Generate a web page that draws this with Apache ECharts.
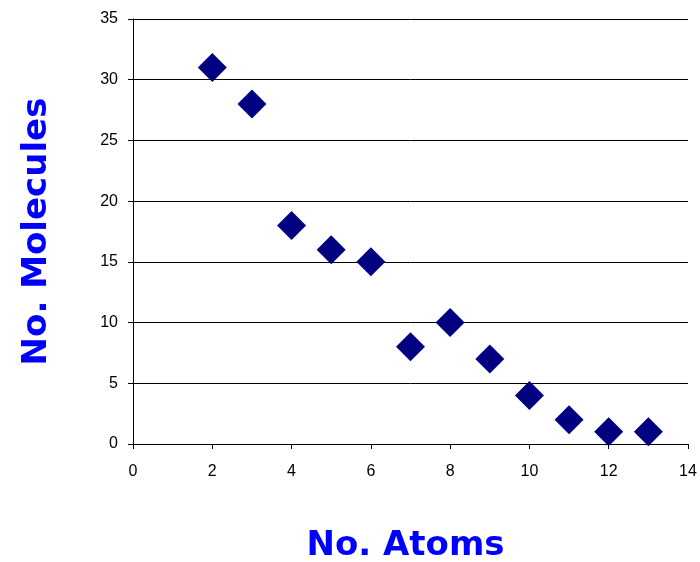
<!DOCTYPE html>
<html>
<head>
<meta charset="utf-8">
<script src="https://cdn.jsdelivr.net/npm/echarts@6/dist/echarts.min.js"></script>
<style>
  html, body { margin: 0; padding: 0; background: #fff; }
  #chart { width: 700px; height: 562px; }
</style>
</head>
<body>
<div id="chart"></div>
<script>
// Number of atoms per molecule vs. how many molecules have that size
const atoms = [2, 3, 4, 5, 6, 7, 8, 9, 10, 11, 12, 13];
const molecules = [31, 28, 18, 16, 15, 8, 10, 7, 4, 2, 1, 1];

const xTitle = 'No. Atoms';
const yTitle = 'No. Molecules';

const points = atoms.map((a, i) => [a, molecules[i]]);

const titleStyle = {
  fontFamily: '"DejaVu Sans", sans-serif',
  fontWeight: 'bold',
  fontSize: 34,
  color: '#0000FF'
};

const tickFont = { color: '#000', fontFamily: '"Liberation Sans", Arial, sans-serif', fontSize: 16 };

const chart = echarts.init(document.getElementById('chart'), null, { renderer: 'canvas' });
chart.setOption({
  animation: false,
  backgroundColor: '#ffffff',
  grid: { left: 133, right: 12, top: 19, bottom: 118, containLabel: false, outerBoundsMode: 'none' },
  xAxis: {
    type: 'value',
    min: 0, max: 14, interval: 2,
    name: xTitle,
    nameLocation: 'middle',
    nameGap: 85,
    nameTextStyle: Object.assign({}, titleStyle, { padding: [0, 10, 0, 0] }),
    axisLine: { show: true, onZero: false, lineStyle: { color: '#000', width: 1 } },
    axisTick: { show: true, inside: false, length: 5, lineStyle: { color: '#000' } },
    axisLabel: Object.assign({ margin: 20 }, tickFont),
    splitLine: { show: false }
  },
  yAxis: {
    type: 'value',
    min: 0, max: 35, interval: 5,
    name: yTitle,
    nameLocation: 'middle',
    nameRotate: 90,
    nameGap: 79,
    nameTextStyle: titleStyle,
    axisLine: { show: true, lineStyle: { color: '#000', width: 1 } },
    axisTick: { show: true, inside: false, length: 5, lineStyle: { color: '#000' } },
    axisLabel: Object.assign({ margin: 15 }, tickFont),
    splitLine: { show: true, lineStyle: { color: '#000', width: 1 } }
  },
  series: [{
    type: 'scatter',
    data: points,
    symbol: 'diamond',
    symbolSize: [29, 29],
    itemStyle: { color: '#000080', opacity: 1 }
  }]
});
</script>
</body>
</html>
